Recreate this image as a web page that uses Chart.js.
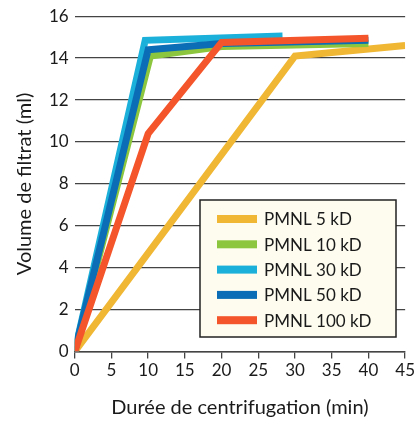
<!DOCTYPE html>
<html>
<head>
<meta charset="utf-8">
<script src="https://cdn.jsdelivr.net/npm/chart.js@4"></script>
<style>
  html, body { margin: 0; padding: 0; background: #fff; }
  #wrap { position: relative; width: 417px; height: 424px; }
</style>
</head>
<body>
<div id="wrap"><canvas id="lineChart" width="417" height="424"></canvas></div>
<script>
// data (minutes -> ml)
const seriesNames = ['PMNL 5 kD', 'PMNL 10 kD', 'PMNL 30 kD', 'PMNL 50 kD', 'PMNL 100 kD'];
const seriesColors = ['#efb734', '#8cc63f', '#1bb0d9', '#0b6db5', '#f4552b'];
const pmnl5 = [{x: 0, y: 0}, {x: 30, y: 14.1}, {x: 45, y: 14.6}];
const pmnl10 = [{x: 0, y: 0}, {x: 10.3, y: 14.1}, {x: 20, y: 14.55}, {x: 40, y: 14.7}];
const pmnl30 = [{x: 0, y: 0}, {x: 9.6, y: 14.85}, {x: 28.3, y: 15.05}];
const pmnl50 = [{x: 0, y: 0}, {x: 10, y: 14.4}, {x: 20, y: 14.7}, {x: 40, y: 14.85}];
const pmnl100 = [{x: 0, y: 0}, {x: 10, y: 10.4}, {x: 20, y: 14.75}, {x: 40, y: 14.95}];
const drawOrder = [4, 3, 2, 1, 0]; // red on top
const xTicks = [0, 5, 10, 15, 20, 25, 30, 35, 40, 45];
const yTicks = [0, 2, 4, 6, 8, 10, 12, 14, 16];

const FONT = 'Lato, "Open Sans", sans-serif';

// legend box drawn inside the plot
const boxLegend = {
    id: 'boxLegend',
    afterDraw(chart) {
        const ctx = chart.ctx;
        const x0 = 200, y0 = 200, w = 196, h = 137;
        ctx.save();
        ctx.fillStyle = '#fdfcef';
        ctx.fillRect(x0, y0, w, h);
        ctx.strokeStyle = '#222';
        ctx.lineWidth = 1.5;
        ctx.strokeRect(x0, y0, w, h);
        ctx.font = '17px ' + FONT;
        ctx.textBaseline = 'middle';
        chart.data.datasets.forEach((ds, i) => {
            const cy = y0 + 19 + i * 25.3;
            ctx.fillStyle = ds.borderColor;
            ctx.fillRect(217, cy - 4, 40, 8);
            ctx.fillStyle = '#1a1a1a';
            ctx.fillText(ds.label, 264, cy + 1);
        });
        ctx.restore();
    }
};

const datasets = [pmnl5, pmnl10, pmnl30, pmnl50, pmnl100].map((d, i) => ({
    label: seriesNames[i],
    data: d,
    borderColor: seriesColors[i],
    backgroundColor: seriesColors[i],
    borderWidth: 7,
    pointRadius: 0,
    tension: 0,
    fill: false,
    order: drawOrder[i]
}));

const ctxLine = document.getElementById('lineChart').getContext('2d');
const lineChart = new Chart(ctxLine, {
    type: 'line',
    data: { datasets: datasets },
    options: {
        responsive: false,
        animation: false,
        layout: { padding: { left: 13, right: 10, top: 9, bottom: 4 } },
        plugins: {
            legend: { display: false },
            tooltip: { enabled: false }
        },
        scales: {
            x: {
                type: 'linear',
                min: 0,
                max: 45,
                afterBuildTicks: (axis) => { axis.ticks = xTicks.map(v => ({ value: v })); },
                grid: {
                    display: true,
                    drawOnChartArea: false,
                    drawTicks: true,
                    tickLength: 7,
                    color: '#444',
                    lineWidth: 1.3
                },
                border: { display: true, color: '#444', width: 1.5 },
                ticks: {
                    color: '#1a1a1a',
                    font: { family: FONT, size: 17 },
                    padding: 2,
                    maxRotation: 0
                },
                title: {
                    display: true,
                    text: 'Durée de centrifugation (min)',
                    color: '#1a1a1a',
                    font: { family: FONT, size: 20 },
                    padding: { top: 13, bottom: 0 }
                }
            },
            y: {
                min: 0,
                max: 16,
                afterBuildTicks: (axis) => { axis.ticks = yTicks.map(v => ({ value: v })); },
                grid: {
                    color: '#444',
                    lineWidth: 1.3,
                    drawTicks: false
                },
                border: { display: false },
                ticks: {
                    color: '#1a1a1a',
                    font: { family: FONT, size: 17 },
                    padding: 6
                },
                title: {
                    display: true,
                    text: 'Volume de filtrat (ml)',
                    color: '#1a1a1a',
                    font: { family: FONT, size: 20 },
                    padding: { top: 0, bottom: 6 }
                }
            }
        }
    },
    plugins: [boxLegend]
});
</script>
</body>
</html>
